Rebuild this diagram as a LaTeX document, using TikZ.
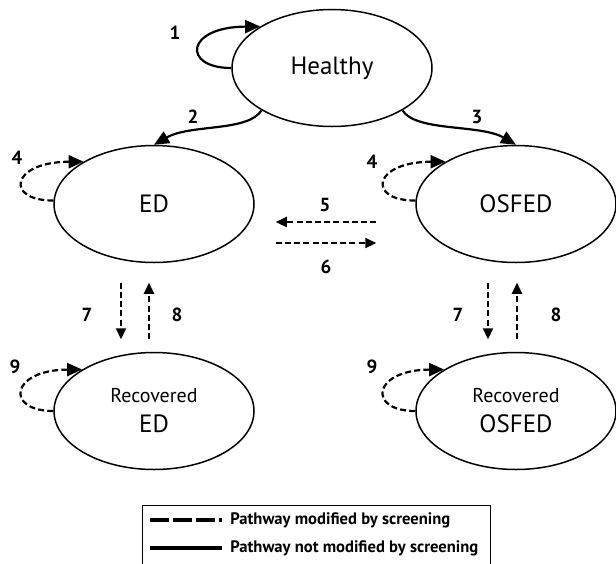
\documentclass[tikz,border=0pt]{standalone}
\usepackage{fontspec}
\setmainfont{PT Sans}
\usetikzlibrary{shapes.geometric,arrows.meta}

\tikzset{
  state/.style={ellipse,draw,line width=0.75pt,minimum width=100pt,minimum height=58.5pt,
    inner sep=0pt,align=center,font=\fontsize{12.5}{15}\selectfont},
  num/.style={font=\fontsize{9.5}{10}\selectfont\bfseries},
  flow/.style={line width=1.1pt,-{Triangle[length=7.5pt,width=6.5pt]}},
  scrloop/.style={flow,dash pattern=on 3pt off 1.6pt},
  scr/.style={line width=1.1pt,dash pattern=on 3pt off 1.6pt,-{Triangle[length=5.5pt,width=5pt]}},
  legtext/.style={anchor=west,inner sep=0pt,font=\fontsize{8.3}{9}\selectfont\bfseries},
}

\begin{document}
\begin{tikzpicture}[x=0.5pt,y=-0.5pt]
    \clip (0,0) rectangle (616,563);
    % states
    \node[state] (healthy) at (332,68) {Healthy};
    \node[state] (ed) at (154,204) {ED};
    \node[state] (osfed) at (516,204) {OSFED};
    \node[state] (reced) at (154,411) {{\fontsize{10}{12}\selectfont Recovered}\\[0pt]ED};
    \node[state] (recosfed) at (516,411) {{\fontsize{10}{12}\selectfont Recovered}\\[0pt]OSFED};
    % solid pathways
    \draw[flow] (healthy.180) .. controls (182,68) and (185,27) .. (healthy.150);
    \draw[flow] (healthy.211) .. controls (248,132) and (190,124) .. (ed.north);
    \draw[flow] (healthy.329) .. controls (416,132) and (480,124) .. (osfed.north);
    % screening loops
    \draw[scrloop] (ed.178) .. controls (5,201) and (10,162) .. (ed.149);
    \draw[scrloop] (osfed.178) .. controls (367,201) and (372,162) .. (osfed.149);
    \draw[scrloop] (reced.180) .. controls (5,411) and (10,370) .. (reced.150);
    \draw[scrloop] (recosfed.180) .. controls (367,411) and (372,370) .. (recosfed.150);
    % ED <-> OSFED
    \draw[scr,shorten <=19.5pt,shorten >=10.5pt] ([yshift=-9pt]osfed.west) -- ([yshift=-9pt]ed.east);
    \draw[scr,shorten <=10.5pt,shorten >=19.5pt] ([yshift=-19.5pt]ed.east) -- ([yshift=-19.5pt]osfed.west);
    % recovery
    \draw[scr,shorten <=9.75pt,shorten >=6.25pt] ([xshift=-16.5pt]ed.south) -- ([xshift=-16.5pt]reced.north);
    \draw[scr,shorten <=6.25pt,shorten >=9.75pt] ([xshift=-2.5pt]reced.north) -- ([xshift=-2.5pt]ed.south);
    \draw[scr,shorten <=9.75pt,shorten >=6.25pt] ([xshift=-14pt]osfed.south) -- ([xshift=-14pt]recosfed.north);
    \draw[scr,shorten <=6.25pt,shorten >=9.75pt] ([xshift=0.5pt]recosfed.north) -- ([xshift=0.5pt]osfed.south);
    % numbers
    \node[num] (n1) at (175,33) {1};
    \node[num] (n2) at (193,117) {2};
    \node[num] (n3) at (477,117) {3};
    \node[num] (n4a) at (17,158) {4};
    \node[num] (n4b) at (372,162) {4};
    \node[num] (n5) at (325,205) {5};
    \node[num] (n6) at (326,267) {6};
    \node[num] (n7a) at (87,315) {7};
    \node[num] (n8a) at (177,315) {8};
    \node[num] (n7b) at (458,315) {7};
    \node[num] (n8b) at (556,315) {8};
    \node[num] (n9a) at (15,367) {9};
    \node[num] (n9b) at (372,367) {9};
    % legend
    \draw[line width=0.5pt] (142,600) |- (490,505) -- (490,600);
    \node[legtext] (lgdash) at (230,520) {Pathway modified by screening};
    \node[legtext] (lgsolid) at (230,548) {Pathway not modified by screening};
    \draw[line width=2pt,dash pattern=on 9.5pt off 2pt] ([xshift=-40pt]lgdash.west) -- ([xshift=-4pt]lgdash.west);
    \draw[line width=2pt] ([xshift=-40pt]lgsolid.west) -- ([xshift=-4pt]lgsolid.west);
\end{tikzpicture}
\end{document}
